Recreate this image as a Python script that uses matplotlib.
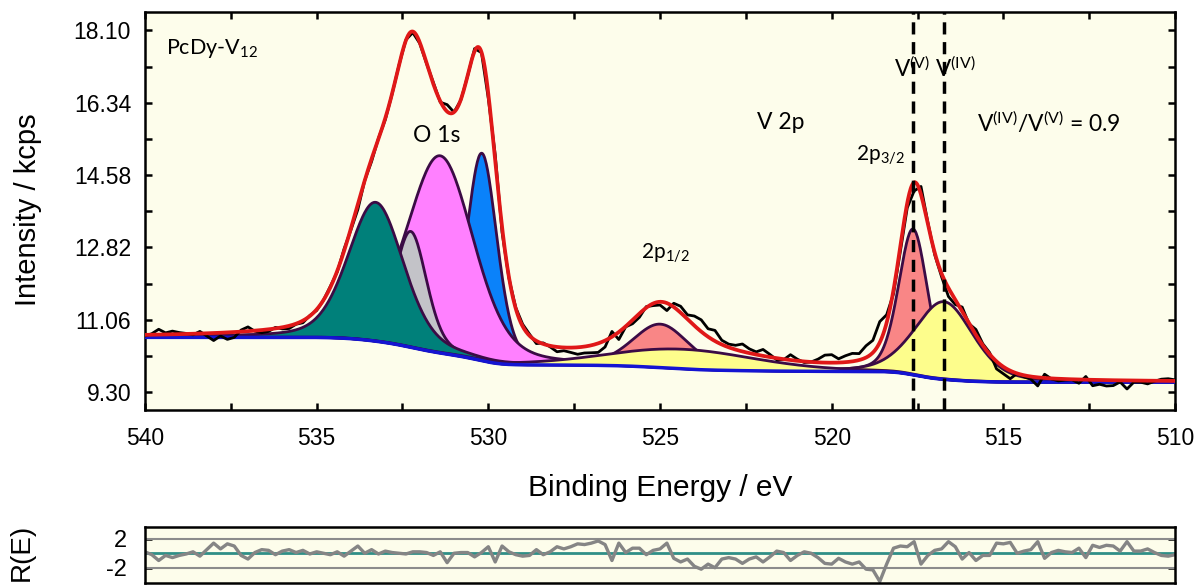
import math
import matplotlib
matplotlib.use('Agg')
import matplotlib.pyplot as plt
from matplotlib.ticker import MultipleLocator, FixedLocator
import numpy as np

plt.rcParams['font.family'] = ['Liberation Sans', 'DejaVu Sans']
plt.rcParams['mathtext.fontset'] = 'custom'
plt.rcParams['mathtext.rm'] = 'Lato'
plt.rcParams['mathtext.default'] = 'regular'

# fitted components (O 1s: 4 peaks, V 2p: V(V)/V(IV) doublets)
peak_center = [530.19, 531.40, 532.26, 533.28, 517.63, 524.99, 516.73, 524.30]
peak_height = [5.05, 4.80, 2.82, 3.38, 3.55, 1.06, 1.89, 0.48]
peak_fwhm = [1.05, 2.30, 1.10, 1.90, 1.00, 1.94, 2.00, 5.0]
peak_color = ['#0a82fa', '#ff80ff', '#c3c3c8', '#00807a',
              '#f98686', '#f98686', '#fdfd8c', '#fdfd8c']
gl_mix = 0.3

# shirley-type background: level at low BE + step under each component
bg_low = 9.54
bg_step = [0.14, 0.29, 0.07, 0.17, 0.13, 0.07, 0.13, 0.09]

# normalised residual R(E), 540 -> 510 eV every 0.2 eV
residual = [0.2, -0.2, -1.0, -0.3, -0.6, -0.3, -0.1, 0.2, -0.4, 0.5,
            1.4, 0.6, 1.3, 1.0, -0.3, -0.8, 0.1, 0.5, 0.4, -0.2,
            0.3, 0.5, 0.1, 0.4, -0.1, 0.2, 0.0, -0.2, 0.2, -0.4,
            0.3, 1.0, 0.0, 0.5, -0.1, 0.3, 0.1, 0.0,
            -0.1, 0.2, 0.2, 0.1, -0.3, 0.2, -1.3, 0.0, 0.1, 0.1,
            -0.5, 0.1, 0.9, -1.2, 1.0, 0.2, -0.2, -0.4, -0.3, 0.5,
            -0.2, 0.2, 0.9, 0.6, 0.9, 1.3, 1.2, 1.4, 1.7, 1.2,
            -1.0, 1.4, 0.1, 0.7, 0.7, -0.2, 0.4,
            0.6, 1.4, -0.7, -1.2, -0.8, -1.8, -2.2, -1.5, -2.0, -0.8,
            -0.6, -0.8, -1.4, -0.8, -0.5, -1.2, -0.5, 0.3, 0.1, -1.0,
            -0.3, 0.2, 0.0, -0.6, -1.4, -1.5, -0.7, -1.2, -1.5, -1.2,
            -2.2, -2.3, -3.9, -1.5, 0.7, 1.0, 0.9,
            1.6, -1.5, -0.3, 0.4, 0.6, 1.6, 0.9, -0.8, 0.1, -1.0,
            -0.3, -0.3, 1.4, 1.3, 1.5, 0.0, 0.3, 0.5, 1.6, -0.7,
            0.1, 0.4, 0.2, 0.1, 0.7, -0.6, 1.1, 0.8, 1.1, 1.0,
            0.3, 1.6, 0.3, 0.3, 0.6, 0.1, -0.3, -0.4, -0.2]
residual_scale = 0.13  # kcps per unit of R

erf = np.vectorize(math.erf)


def pv(e, c, h, w):
    x = (e - c) / w
    return h * ((1 - gl_mix) * np.exp(-4 * np.log(2) * x ** 2) + gl_mix / (1 + 4 * x ** 2))


def background(e):
    b = np.full_like(e, bg_low)
    for c, w, s in zip(peak_center, peak_fwhm, bg_step):
        sig = w / 2.3548
        b += s * 0.5 * (1 + erf((e - c) / (sig * np.sqrt(2))))
    return b


def envelope(e):
    y = background(e)
    for c, h, w in zip(peak_center, peak_height, peak_fwhm):
        y += pv(e, c, h, w)
    return y


energy = np.linspace(540, 510, 1501)
e_meas = np.linspace(540, 510, len(residual))
bg = background(energy)
fit = envelope(energy)
meas = envelope(e_meas) - residual_scale * np.array(residual)

fig = plt.figure(figsize=(12.02, 5.85), dpi=100)
ax = fig.add_axes([0.1206, 0.299, 0.857, 0.680])
axr = fig.add_axes([0.1206, 0.004, 0.857, 0.0957])
cream = '#fdfdeb'
outline = '#3b0b45'

for i in range(len(peak_center)):
    comp = bg + pv(energy, peak_center[i], peak_height[i], peak_fwhm[i])
    ax.fill_between(energy, bg, comp, color=peak_color[i], lw=0, zorder=2 + i * 0.01)
    ax.plot(energy, comp, color=outline, lw=2, zorder=2 + i * 0.01 + 0.005)

ax.plot(energy, bg, color='#1414d2', lw=2.5, zorder=3)
ax.plot(e_meas, meas, color='black', lw=2, zorder=4)
ax.plot(energy, fit, color='#e01818', lw=2.7, zorder=5)
for c in peak_center[4], peak_center[6]:
    ax.axvline(c, color='black', lw=2.5, ls=(0, (3.5, 2.2)), zorder=6)

ax.set_xlim(540, 510)
ax.set_ylim(8.86, 18.54)
ax.set_facecolor(cream)
ax.xaxis.set_major_locator(MultipleLocator(5))
ax.xaxis.set_minor_locator(MultipleLocator(2.5))
yt = [9.30, 11.06, 12.82, 14.58, 16.34, 18.10]
ax.yaxis.set_major_locator(FixedLocator(yt))
ax.yaxis.set_minor_locator(FixedLocator([v + 0.88 for v in yt]))
ax.set_yticklabels(['%.2f' % v for v in yt])
ax.tick_params(which='both', direction='in', top=True, right=True, width=1.8,
               length=5, labelsize=16.5)
ax.tick_params(axis='x', pad=12)
ax.tick_params(axis='y', pad=10)
for s in ax.spines.values():
    s.set_linewidth(1.8)

tfont = 'Lato'
ax.text(539.4, 17.66, 'PcDy-V$_{12}$', family=tfont, fontsize=15.5, va='center')
ax.text(531.49, 15.55, 'O 1s', family=tfont, fontsize=16.5, ha='center', va='center')
ax.text(521.49, 15.86, 'V 2p', family=tfont, fontsize=16.5, ha='center', va='center')
ax.text(518.57, 15.06, '2p$_{3/2}$', family=tfont, fontsize=15, ha='center', va='center')
ax.text(524.85, 12.68, '2p$_{1/2}$', family=tfont, fontsize=15, ha='center', va='center')
ax.text(518.19, 17.18, 'V$^{(V)}$ V$^{(IV)}$', family=tfont, fontsize=16.3, va='center')
ax.text(515.77, 15.86, 'V$^{(IV)}$/V$^{(V)}$ = 0.9', family=tfont, fontsize=16.5, va='center')

fig.text(0.023, 0.641, 'Intensity / kcps', rotation=90, ha='center', va='center', fontsize=21)
fig.text(0.549, 0.166, 'Binding Energy / eV', ha='center', va='center', fontsize=21.5)
fig.text(0.018, 0.055, 'R(E)', rotation=90, ha='center', va='center', fontsize=20)

axr.set_facecolor(cream)
axr.axhline(2, color='#8c8c8c', lw=1.5)
axr.axhline(-2, color='#8c8c8c', lw=1.5)
axr.axhline(0, color='#2f8f86', lw=2)
axr.plot(e_meas, residual, color='#858585', lw=2.4)
axr.set_xlim(540, 510)
axr.set_ylim(-4.06, 3.67)
axr.set_xticks([])
axr.set_yticks([2, -2])
axr.set_yticklabels(['2', '-2'])
axr.tick_params(direction='in', right=True, width=1.8, length=5, labelsize=17, pad=13)
for s in axr.spines.values():
    s.set_linewidth(1.8)

fig.savefig('out.png', dpi=100)
